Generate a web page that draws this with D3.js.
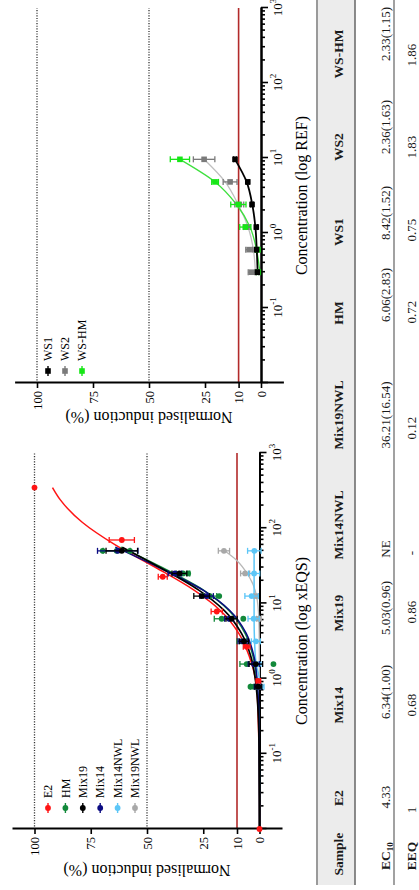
<!DOCTYPE html>
<html><head><meta charset="utf-8">
<script src="https://cdn.jsdelivr.net/npm/d3@7"></script>
<style>html,body{margin:0;padding:0;background:#fff;} svg{display:block;} text{font-family:"Liberation Serif","Times New Roman",serif;}</style>
</head><body>
<svg id="c" width="419" height="890"></svg>
<script>
// ================= DATA =================
// Left panel (log xEQS)
const leftLegend = ["E2","HM","Mix19","Mix14","Mix14NWL","Mix19NWL"];
const percentTicks = [0,10,25,50,75,100];
const decadeTicks = [0.1,1,10,100,1000];

const e2Conc = [0.01, 0.93, 2.65, 7.8, 22.6, 69.7, 347];
const e2Mean = [0, 0.5, 5.7, 19.0, 43.0, 61.2, 100];
const e2Sd   = [0, 1.0, 1.5, 2.5, 2.0, 5.6, 0];

const mixConc = [0.78, 1.56, 3.13, 6.25, 12.5, 25, 50];
const hmMean  = [2.5, 5.7, 8.0, 16.8, 22.0, 34.0, 63.5];
const hmSd    = [1.5, 3.0, 2.0, 3.3, 3.0, 3.0, 6.0];
const hmRepConc = [0.78, 1.56, 6.25, 12.5, 25, 50, 50];
const hmRepVal  = [4.0, -6.2, 7.2, 17.9, 31.7, 69.7, 57.6];
const mix19Mean = [0.5, 1.6, 6.9, 12.4, 25.7, 35.6, 61.2];
const mix19Sd   = [1.5, 3.0, 2.0, 2.5, 3.5, 3.3, 7.0];
const mix14Mean = [0.8, 2.5, 7.5, 13.5, 23.5, 37.6, 63.0];
const mix14Sd   = [1.5, 2.5, 2.0, 2.0, 3.0, 3.0, 9.0];
const mix14nwlMean = [-0.5, 0.3, 1.6, 2.6, 3.5, 2.4, 2.3];
const mix14nwlSd   = [1.5, 1.5, 2.0, 2.5, 3.0, 2.5, 3.0];
const mix19nwlConc = [6.25, 12.5, 25, 50];
const mix19nwlMean = [0.3, 1.5, 6.4, 15.8];
const mix19nwlSd   = [1.0, 1.0, 2.0, 2.5];

// fitted curves
const fitConcE2 = [0.01, 0.1, 0.3, 0.6, 1, 2, 4, 8, 15, 30, 60, 120, 240, 347];
const fitE2     = [0, 0.2, 0.6, 1.0, 1.8, 4.6, 9.2, 17.3, 29.1, 46.1, 64.1, 78.8, 88.6, 92.0];
const fitConcMix = [0.01, 0.1, 0.3, 0.6, 1, 2, 4, 8, 15, 30, 56];
const fitHM     = [0, 0.1, 0.3, 0.7, 1.3, 2.9, 6.4, 13.5, 24.9, 43.3, 61.7];
const fitMix19  = [0, 0.15, 0.5, 1.1, 1.9, 3.9, 8.0, 15.6, 27.0, 44.2, 61.0];
const fitMix14  = [0, 0.1, 0.25, 0.6, 1.1, 2.5, 5.9, 13.1, 25.1, 44.7, 64.1];
const fitConcNWL14 = [0.78, 1.2, 1.56, 3.13, 6.25, 12.5, 25, 50];
const fitMix14NWL  = [-0.8, 0.6, 1.5, 2.2, 2.4, 2.4, 2.4, 2.4];
const fitConcNWL19 = [0.78, 3.13, 6.25, 12.5, 25, 37, 50];
const fitMix19NWL  = [0, 0.1, 0.3, 1.3, 5.5, 10.0, 15.5];

// Right panel (log REF)
const rightLegend = ["WS1","WS2","WS-HM"];
const refConc  = [0.3, 0.6, 1.2, 2.4, 4.8, 9.6];
const ws1Mean  = [1.6, 2.0, 2.1, 4.0, 5.9, 11.6];
const ws1Sd    = [0.6, 0.6, 0.6, 0.6, 0.6, 0.6];
const ws2Mean  = [4.2, 5.3, 6.3, 9.7, 13.8, 25.4];
const ws2Sd    = [1.5, 1.5, 1.5, 2.0, 3.1, 4.8];
const wshmMean = [1.2, 1.5, 7.0, 10.1, 20.5, 36.2];
const wshmSd   = [0.8, 1.0, 2.5, 3.4, 1.5, 4.3];
const fitWS1   = [1.5, 1.9, 2.5, 3.9, 6.4, 11.6];
const fitWS2   = [2.5, 3.4, 5.8, 10.2, 16.0, 25.4];
const fitWSHM  = [0.5, 2.0, 4.9, 10.9, 20.5, 36.2];

// Table
const tableHead = ["Sample","E2","Mix14","Mix19","Mix14NWL","Mix19NWL","HM","WS1","WS2","WS-HM"];
const ec10Row = ["4.33","6.34(1.00)","5.03(0.96)","NE","36.21(16.54)","6.06(2.83)","8.42(1.52)","2.36(1.63)","2.33(1.15)"];
const eeqRow  = ["1","0.68","0.86","-","0.12","0.72","0.75","1.83","1.86"];

// ================= STYLE / LAYOUT =================
const colors = {E2:"#ff1414", HM:"#12893a", Mix19:"#000000", Mix14:"#0b0b82", Mix14NWL:"#5cc6f7", Mix19NWL:"#a8a8a8",
  WS1:"#000000", WS2:"#7a7a7a", "WS-HM":"#16e616"};
const curveColors = {E2:"#ff1414", HM:"#12893a", Mix19:"#000000", Mix14:"#0b0b82", Mix14NWL:"#5cc6f7", Mix19NWL:"#b8b8b8",
  WS1:"#000000", WS2:"#c0c0c0", "WS-HM":"#3ee03e"};
const threshColor = "#b22a2a";
const W = 890, H = 419;
const headCenters = [36, 92, 185, 277, 365, 475, 577, 658, 743, 836];
const ec10Centers = [93, 198, 282, 341, 475, 595, 677, 763, 856];
const eeqCenters  = [80, 185, 278, 337, 462, 578, 660, 743, 835];

const svg = d3.select("#c");
const root = svg.append("g").attr("transform", `translate(0,${W}) rotate(-90)`);
root.append("rect").attr("width", W).attr("height", H).attr("fill", "#fff");

function zip(c, v, s) { return c.map((d, i) => ({c: d, v: v[i], s: s ? s[i] : 0})); }

function panel(cfg) {
  const x = d3.scaleLog().domain([0.01, 1000]).range([cfg.x0, cfg.x1]);
  const y = d3.scaleLinear().domain([-10, 110]).range(cfg.yr);
  const g = root.append("g");
  // reference lines
  [100, 50].forEach(p => g.append("line").attr("x1", cfg.x0).attr("x2", cfg.x1).attr("y1", y(p)).attr("y2", y(p))
    .attr("stroke", "#333").attr("stroke-width", 1.3).attr("stroke-dasharray", "1.1,1.5"));
  g.append("line").attr("x1", cfg.x0).attr("x2", cfg.x1).attr("y1", y(10)).attr("y2", y(10))
    .attr("stroke", threshColor).attr("stroke-width", 1.6);

  // x axis minor ticks
  const minors = [];
  for (let e = -2; e < 3; e++) for (let k = 2; k <= 9; k++) minors.push(k * Math.pow(10, e));
  const gxm = g.append("g").attr("transform", `translate(0,${y(0)})`)
    .call(d3.axisBottom(x).tickValues(minors).tickSize(4).tickSizeOuter(0).tickFormat(() => ""));
  const gx = g.append("g").attr("transform", `translate(0,${y(0)})`)
    .call(d3.axisBottom(x).tickValues([0.01].concat(decadeTicks)).tickSize(7).tickSizeOuter(0).tickFormat(() => ""));
  [gxm, gx].forEach(a => { a.select(".domain").attr("stroke-width", 2).attr("stroke", "#000");
    a.selectAll(".tick line").attr("stroke-width", 1.6).attr("stroke", "#000"); a.selectAll(".tick text").remove(); });
  gx.selectAll(".tick").each(function(d) {
    if (d < 0.05) return;
    const t = d3.select(this).append("text").attr("y", 21).attr("fill", "#000").attr("text-anchor", "middle")
      .style("font-size", "13px");
    t.append("tspan").text("10");
    t.append("tspan").attr("dy", -6).style("font-size", "9px").text(String(Math.round(Math.log10(d))));
  });
  // y axis
  const gy = g.append("g").attr("transform", `translate(${cfg.x0},0)`)
    .call(d3.axisLeft(y).tickValues(percentTicks).tickSize(5).tickPadding(3).tickSizeOuter(0));
  gy.select(".domain").attr("stroke-width", 2).attr("stroke", "#000");
  gy.selectAll(".tick line").attr("stroke-width", 1.6).attr("stroke", "#000");
  gy.selectAll(".tick text").attr("font-family", "Liberation Serif").style("font-size", "12.5px").attr("fill", "#000");

  // titles
  g.append("text").attr("x", (cfg.x0 + cfg.x1) / 2).attr("y", 307).attr("text-anchor", "middle")
    .style("font-size", "16px").text(cfg.xTitle);
  g.append("text").attr("transform", `translate(${cfg.yTitleX},${y(50)}) rotate(-90)`).attr("text-anchor", "middle")
    .style("font-size", "16px").text("Normalised induction (%)");

  // curves
  const line = d3.line().x(d => x(d.c)).y(d => y(d.v)).curve(d3.curveMonotoneX);
  cfg.curves.forEach(cv => g.append("path").datum(zip(cv.c, cv.v)).attr("d", line).attr("fill", "none")
    .attr("stroke", curveColors[cv.name]).attr("stroke-width", cv.w || 1.5));

  // points + error bars
  cfg.series.forEach(s => {
    const col = colors[s.name];
    const data = zip(s.c, s.v, s.s);
    const eb = g.append("g").attr("stroke", col).attr("stroke-width", 1.3);
    data.filter(d => d.s > 0).forEach(d => {
      const cx = x(d.c), y1 = y(d.v - d.s), y2 = y(d.v + d.s);
      eb.append("line").attr("x1", cx).attr("x2", cx).attr("y1", y1).attr("y2", y2);
      eb.append("line").attr("x1", cx - 3).attr("x2", cx + 3).attr("y1", y1).attr("y2", y1);
      eb.append("line").attr("x1", cx - 3).attr("x2", cx + 3).attr("y1", y2).attr("y2", y2);
    });
    if (s.shape === "square") {
      g.selectAll(null).data(data).enter().append("rect").attr("x", d => x(d.c) - 2.8).attr("y", d => y(d.v) - 2.8)
        .attr("width", 5.6).attr("height", 5.6).attr("fill", col);
    } else {
      g.selectAll(null).data(data).enter().append("circle").attr("cx", d => x(d.c)).attr("cy", d => y(d.v))
        .attr("r", 2.9).attr("fill", col);
    }
  });

  // legend
  cfg.legend.forEach((name, i) => {
    const ly = cfg.legY0 + i * cfg.legDy, lx = cfg.x0 + cfg.legDx;
    const col = colors[name];
    g.append("line").attr("x1", lx - 5).attr("x2", lx + 5).attr("y1", ly).attr("y2", ly).attr("stroke", col).attr("stroke-width", 1.4);
    if (cfg.shape === "square") g.append("rect").attr("x", lx - 2.8).attr("y", ly - 2.8).attr("width", 5.6).attr("height", 5.6).attr("fill", col);
    else g.append("circle").attr("cx", lx).attr("cy", ly).attr("r", 2.9).attr("fill", col);
    g.append("text").attr("x", lx + 10).attr("y", ly).attr("dy", "0.35em").style("font-size", "12px").text(name);
  });
}

panel({
  x0: 61, x1: 437, yr: [282, 12], xTitle: "Concentration (log xEQS)", yTitleX: 25,
  legend: leftLegend, legY0: 48, legDy: 17.4, legDx: 21, shape: "circle",
  curves: [
    {name: "Mix19NWL", c: fitConcNWL19, v: fitMix19NWL, w: 1.3},
    {name: "Mix14NWL", c: fitConcNWL14, v: fitMix14NWL, w: 1.5},
    {name: "E2", c: fitConcE2, v: fitE2},
    {name: "HM", c: fitConcMix, v: fitHM},
    {name: "Mix14", c: fitConcMix, v: fitMix14},
    {name: "Mix19", c: fitConcMix, v: fitMix19, w: 1.7}
  ],
  series: [
    {name: "Mix19NWL", c: mix19nwlConc, v: mix19nwlMean, s: mix19nwlSd},
    {name: "Mix14NWL", c: mixConc, v: mix14nwlMean, s: mix14nwlSd},
    {name: "HM", c: hmRepConc, v: hmRepVal},
    {name: "HM", c: mixConc, v: hmMean, s: hmSd},
    {name: "E2", c: e2Conc, v: e2Mean, s: e2Sd},
    {name: "Mix14", c: mixConc, v: mix14Mean, s: mix14Sd},
    {name: "Mix19", c: mixConc, v: mix19Mean, s: mix19Sd}
  ]
});

panel({
  x0: 507, x1: 882, yr: [283.4, 14.6], xTitle: "Concentration (log REF)", yTitleX: 478,
  legend: rightLegend, legY0: 48, legDy: 17, legDx: 12, shape: "square",
  curves: [
    {name: "WS2", c: refConc, v: fitWS2, w: 1.3},
    {name: "WS-HM", c: refConc, v: fitWSHM, w: 1.3},
    {name: "WS1", c: refConc, v: fitWS1, w: 1.8}
  ],
  series: [
    {name: "WS2", c: refConc, v: ws2Mean, s: ws2Sd, shape: "square"},
    {name: "WS-HM", c: refConc, v: wshmMean, s: wshmSd, shape: "square"},
    {name: "WS1", c: refConc, v: ws1Mean, s: ws1Sd, shape: "square"}
  ]
});

// ================= TABLE =================
const tg = root.append("g");
const tx0 = 5, tx1 = W;
tg.append("rect").attr("x", tx0).attr("y", 317).attr("width", tx1 - tx0).attr("height", 38).attr("fill", "#ececec");
tg.append("line").attr("x1", tx0).attr("x2", tx1).attr("y1", 317).attr("y2", 317).attr("stroke", "#9a9a9a").attr("stroke-width", 2);
tg.append("line").attr("x1", tx0).attr("x2", tx1).attr("y1", 355).attr("y2", 355).attr("stroke", "#6e6e6e").attr("stroke-width", 1.6);
tg.append("line").attr("x1", tx0).attr("x2", tx1).attr("y1", 394).attr("y2", 394).attr("stroke", "#8a8a8a").attr("stroke-width", 1.6);

tableHead.forEach((h, i) => tg.append("text").attr("x", headCenters[i]).attr("y", 343).attr("text-anchor", "middle")
  .style("font-size", "13.5px").style("font-weight", "bold").attr("fill", "#1a1a1a").text(h));
const ecLab = tg.append("text").attr("x", 34).attr("y", 390).attr("text-anchor", "middle")
  .style("font-size", "13.5px").style("font-weight", "bold").attr("fill", "#1a1a1a");
ecLab.append("tspan").text("EC");
ecLab.append("tspan").attr("dy", 3).style("font-size", "9px").text("10");
tg.append("text").attr("x", 34).attr("y", 416).attr("text-anchor", "middle")
  .style("font-size", "13.5px").style("font-weight", "bold").attr("fill", "#1a1a1a").text("EEQ");
ec10Row.forEach((v, i) => tg.append("text").attr("x", ec10Centers[i]).attr("y", 390).attr("text-anchor", "middle")
  .style("font-size", "13px").attr("fill", "#1a1a1a").text(v));
eeqRow.forEach((v, i) => tg.append("text").attr("x", eeqCenters[i]).attr("y", 416).attr("text-anchor", "middle")
  .style("font-size", "13px").attr("fill", "#1a1a1a").text(v));
</script>
</body></html>
